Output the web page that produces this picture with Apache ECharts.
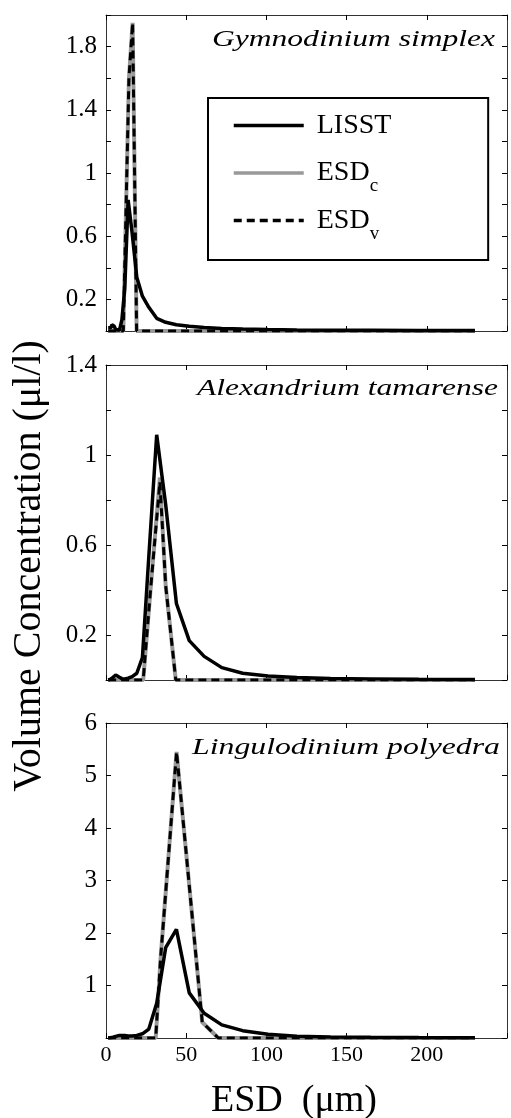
<!DOCTYPE html>
<html>
<head>
<meta charset="utf-8">
<script src="https://cdn.jsdelivr.net/npm/echarts@6/dist/echarts.min.js"></script>
<style>
  html, body { margin: 0; padding: 0; background: #fff; }
  #main { width: 511px; height: 1118px; }
</style>
</head>
<body>
<div id="main"></div>
<script>
// LISST size bins, midpoints (µm)
const lisstBins = [1.36, 1.60, 1.89, 2.23, 2.63, 3.11, 3.67, 4.33, 5.11, 6.03, 7.11, 8.39,
  9.90, 11.7, 13.8, 16.3, 19.2, 22.7, 26.7, 31.6, 37.2, 43.9, 51.9, 61.2, 72.2, 85.2,
  101, 119, 140, 165, 195, 230];

// LISST volume concentration (µl/l)
const lisstGym = [0.02, 0.02, 0.015, 0.01, 0.01, 0.02, 0.04, 0.05, 0.03, 0.01, 0.005, 0.005,
  0.07, 0.27, 0.83, 0.62, 0.34, 0.22, 0.15, 0.08, 0.055, 0.04, 0.03, 0.022, 0.016, 0.012,
  0.009, 0.007, 0.005, 0.004, 0.003, 0.003];
const lisstAlex = [0, 0, 0, 0, 0.003, 0.005, 0.008, 0.012, 0.018, 0.022, 0.022, 0.012,
  0.006, 0.005, 0.008, 0.015, 0.03, 0.1, 0.55, 1.09, 0.78, 0.34, 0.175, 0.105, 0.055, 0.03,
  0.018, 0.011, 0.007, 0.005, 0.003, 0.002];
const lisstLing = [0, 0, 0, 0, 0.005, 0.01, 0.01, 0.015, 0.02, 0.03, 0.04, 0.05,
  0.05, 0.05, 0.04, 0.04, 0.05, 0.08, 0.17, 0.66, 1.72, 2.07, 0.86, 0.47, 0.25, 0.14,
  0.07, 0.035, 0.02, 0.012, 0.008, 0.005];

// ESD from microscopy (c: calculated, v: volume)
const esdGymX = [1.36, 10.8, 14.3, 16.6, 19.1, 230];
const esdGymC = [0, 0, 1.6, 1.95, 0, 0];
const esdGymV = [0, 0, 1.6, 1.95, 0, 0];
const esdAlexX = [1.36, 23.2, 27.4, 33.6, 37.2, 43.5, 230];
const esdAlexC = [0, 0, 0.37, 0.9, 0.42, 0, 0];
const esdAlexV = [0, 0, 0.37, 0.88, 0.42, 0, 0];
const esdLingX = [1.36, 31, 34, 44, 60, 70, 230];
const esdLingC = [0, 0, 1.5, 5.45, 0.3, 0, 0];
const esdLingV = [0, 0, 1.5, 5.45, 0.3, 0, 0];

const xTicks = [0, 50, 100, 150, 200];
const yTicksGym = [0.2, 0.6, 1, 1.4, 1.8];
const yTicksAlex = [0.2, 0.6, 1, 1.4];
const yTicksLing = [1, 2, 3, 4, 5, 6];
const species = ['Gymnodinium simplex', 'Alexandrium tamarense', 'Lingulodinium polyedra'];

const FONT = 'Liberation Serif';
const pts = (xs, ys) => xs.map((x, i) => [x, ys[i]]);

const panels = [
  { top: 15, height: 316, yMax: 2, step: 0.2, ticks: yTicksGym, lisst: lisstGym,
    esdX: esdGymX, esdC: esdGymC, esdV: esdGymV, tLeft: 212, tRight: 495, tMid: 39.5 },
  { top: 365, height: 315, yMax: 1.4, step: 0.2, ticks: yTicksAlex, lisst: lisstAlex,
    esdX: esdAlexX, esdC: esdAlexC, esdV: esdAlexV, tLeft: 197, tRight: 498, tMid: 389 },
  { top: 723, height: 315, yMax: 6, step: 1, ticks: yTicksLing, lisst: lisstLing,
    esdX: esdLingX, esdC: esdLingC, esdV: esdLingV, tLeft: 192, tRight: 500, tMid: 748 }
];

const frame = { show: true, onZero: false, lineStyle: { color: '#333', width: 1 } };
const tick = { show: true, inside: true, length: 5, lineStyle: { color: '#000', width: 1 } };

const grid = [], xAxis = [], yAxis = [], series = [], graphic = [];

// measure text to stretch the italic titles to the reference width
const ctx = document.createElement('canvas').getContext('2d');
const titleFont = 'italic 23px "' + FONT + '"';
ctx.font = titleFont;

panels.forEach((p, i) => {
  grid.push({ left: 106, width: 401, top: p.top, height: p.height });
  xAxis.push({
    type: 'value', gridIndex: i, min: 0, max: 250, interval: 50, position: 'bottom',
    axisLine: frame, axisTick: tick, splitLine: { show: false },
    axisLabel: {
      show: i === 2, margin: 6, color: '#000', fontFamily: FONT, fontSize: 22,
      formatter: v => xTicks.includes(v) ? String(v) : ''
    }
  });
  xAxis.push({
    type: 'value', gridIndex: i, min: 0, max: 250, interval: 50, position: 'top',
    axisLine: frame, axisTick: tick, splitLine: { show: false }, axisLabel: { show: false }
  });
  yAxis.push({
    type: 'value', gridIndex: i, min: 0, max: p.yMax, interval: p.step, position: 'left',
    axisLine: frame, axisTick: tick, splitLine: { show: false },
    axisLabel: {
      margin: 9, color: '#000', fontFamily: FONT, fontSize: 25,
      formatter: v => {
        const r = Math.round(v * 1000) / 1000;
        return p.ticks.includes(r) ? String(r) : '';
      }
    }
  });
  yAxis.push({
    type: 'value', gridIndex: i, min: 0, max: p.yMax, interval: p.step, position: 'right',
    axisLine: frame, axisTick: tick, splitLine: { show: false }, axisLabel: { show: false }
  });

  const xi = i * 2, yi = i * 2;
  series.push({
    name: 'ESD_c', type: 'line', xAxisIndex: xi, yAxisIndex: yi, data: pts(p.esdX, p.esdC),
    symbol: 'none', color: '#999', lineStyle: { color: '#999', width: 4 }, z: 2
  });
  series.push({
    name: 'ESD_v', type: 'line', xAxisIndex: xi, yAxisIndex: yi, data: pts(p.esdX, p.esdV),
    symbol: 'none', color: '#000', lineStyle: { color: '#000', width: 3, type: [8, 5] }, z: 3
  });
  series.push({
    name: 'LISST', type: 'line', xAxisIndex: xi, yAxisIndex: yi, data: pts(lisstBins, p.lisst),
    symbol: 'none', color: '#000', lineStyle: { color: '#000', width: 3.5 }, z: 4
  });

  // species name, italic
  const w = ctx.measureText(species[i]).width;
  graphic.push({
    type: 'text', x: p.tLeft, y: p.tMid, scaleX: (p.tRight - p.tLeft) / w,
    style: { text: species[i], font: titleFont, fill: '#000',
      align: 'left', verticalAlign: 'middle', textAlign: 'left', textVerticalAlign: 'middle' }
  });
});

graphic.push({
  type: 'text', x: 29, y: 566, rotation: Math.PI / 2,
  style: { text: 'Volume Concentration (μl/l)', font: '40px "' + FONT + '"', fill: '#000',
    align: 'center', verticalAlign: 'middle', textAlign: 'center', textVerticalAlign: 'middle' }
});
graphic.push({
  type: 'text', x: 294, y: 1101,
  style: { text: 'ESD  (μm)', font: '38px "' + FONT + '"', fill: '#000',
    align: 'center', verticalAlign: 'middle', textAlign: 'center', textVerticalAlign: 'middle' }
});

const chart = echarts.init(document.getElementById('main'));
chart.setOption({
  animation: false,
  backgroundColor: '#fff',
  grid, xAxis, yAxis, series, graphic,
  legend: {
    data: ['LISST', 'ESD_c', 'ESD_v'],
    orient: 'vertical', left: 208, top: 98,
    padding: [13.5, 92, 16.5, 24],
    itemWidth: 70, itemHeight: 20, itemGap: 10.5,
    borderColor: '#000', borderWidth: 2, borderRadius: 0,
    selectedMode: false,
    itemStyle: { opacity: 0 },
    lineStyle: { width: 3.5 },
    // same token layout on every row so the rows get equal heights
    formatter: name => name === 'LISST' ? '{m|LISST}{s| }' : '{m|ESD}{s|' + name.slice(4) + '}',
    textStyle: {
      rich: {
        m: { fontFamily: FONT, fontSize: 28, lineHeight: 46, color: '#000', padding: [0, 0, 0, 8] },
        s: { fontFamily: FONT, fontSize: 19, lineHeight: 19, color: '#000', verticalAlign: 'bottom' }
      }
    }
  }
});
</script>
</body>
</html>
